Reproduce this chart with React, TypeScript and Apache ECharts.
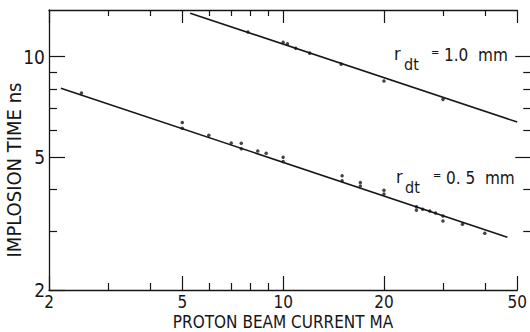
import React, { useEffect, useRef } from "react";
import * as echarts from "echarts";

// Data (log-log plot)
const current10 = [7.85, 10, 10.3, 10.9, 12, 14.9, 20, 30];
const time10 = [11.85, 11.05, 10.94, 10.6, 10.25, 9.5, 8.45, 7.45];
const fit10Current = [5.28, 50];
const fit10Time = [13.5, 6.37];

const current05 = [2.5, 5, 5, 6, 7, 7.5, 7.5, 8.4, 8.9, 10, 10, 15, 15, 17, 17, 20, 20, 25, 25, 26.1, 27.4, 28.5, 30, 30, 34.3, 40];
const time05 = [7.78, 6.1, 6.35, 5.82, 5.51, 5.5, 5.3, 5.22, 5.14, 5.0, 4.85, 4.4, 4.25, 4.2, 4.1, 3.98, 3.88, 3.55, 3.47, 3.49, 3.45, 3.4, 3.33, 3.22, 3.15, 2.96];
const fit05Current = [2.17, 46.7];
const fit05Time = [8.05, 2.88];

const xMajorTicks = [2, 5, 10, 20, 50];
const xMinorTicks = [3, 4, 6, 7, 8, 9, 30, 40];
const yMajorTicks = [2, 5, 10];
const yMinorTicks = [3, 4, 6, 7, 8, 9];
const xRange = [2, 50];
const yRange = [2, 13.8];

const L = Math.log10;
const FONT = "'Liberation Sans Narrow', 'DejaVu Sans Condensed', 'Roboto', sans-serif";
const INK = "#161616";

const pairs = (xs: number[], ys: number[]) => xs.map((x, i) => [L(x), L(ys[i])]);

export default function App() {
  const ref = useRef<HTMLDivElement>(null);
  useEffect(() => {
    const chart = echarts.init(ref.current!, null, { renderer: "svg" });
    const fmt = (v: number) => String(Math.round(Math.pow(10, v)));
    const baseX = {
      type: "value" as const,
      min: L(xRange[0]),
      max: L(xRange[1]),
      splitLine: { show: false },
    };
    const baseY = {
      type: "value" as const,
      min: L(yRange[0]),
      max: L(yRange[1]),
      splitLine: { show: false },
    };
    const line = { show: true, lineStyle: { color: INK, width: 1.3 } };
    const noLine = { show: false };
    const noLabel = { show: false };
    chart.setOption({
      animation: false,
      backgroundColor: "#ffffff",
      grid: { left: 49, top: 10, right: 10, bottom: 42, containLabel: false },
      xAxis: [
        {
          ...baseX,
          position: "bottom",
          axisLine: line,
          axisTick: { show: true, inside: true, length: 14, customValues: xMajorTicks.map(L), lineStyle: { color: INK, width: 1.2 } },
          axisLabel: { show: true, customValues: xMajorTicks.map(L), formatter: fmt, color: INK, fontSize: 17, fontFamily: FONT, margin: 3 },
        },
        {
          ...baseX,
          position: "bottom",
          axisLine: noLine,
          axisTick: { show: true, inside: true, length: 7, customValues: xMinorTicks.map(L), lineStyle: { color: INK, width: 1.2 } },
          axisLabel: noLabel,
        },
        {
          ...baseX,
          position: "top",
          axisLine: line,
          axisTick: { show: true, inside: true, length: 13, customValues: xMajorTicks.map(L), lineStyle: { color: INK, width: 1.2 } },
          axisLabel: noLabel,
        },
        {
          ...baseX,
          position: "top",
          axisLine: noLine,
          axisTick: { show: true, inside: true, length: 6, customValues: xMinorTicks.map(L), lineStyle: { color: INK, width: 1.2 } },
          axisLabel: noLabel,
        },
      ],
      yAxis: [
        {
          ...baseY,
          position: "left",
          axisLine: line,
          axisTick: { show: true, inside: true, length: 16, customValues: yMajorTicks.map(L), lineStyle: { color: INK, width: 1.2 } },
          axisLabel: { show: true, customValues: yMajorTicks.map(L), formatter: fmt, color: INK, fontSize: 19, fontFamily: FONT, margin: 4 },
        },
        {
          ...baseY,
          position: "left",
          axisLine: noLine,
          axisTick: { show: true, inside: true, length: 8, customValues: yMinorTicks.map(L), lineStyle: { color: INK, width: 1.2 } },
          axisLabel: noLabel,
        },
        {
          ...baseY,
          position: "right",
          offset: 14,
          axisLine: noLine,
          axisTick: { show: true, inside: true, length: 16, customValues: [5, 10].map(L), lineStyle: { color: INK, width: 1.2 } },
          axisLabel: noLabel,
        },
        {
          ...baseY,
          position: "right",
          offset: 14,
          axisLine: noLine,
          axisTick: { show: true, inside: true, length: 8, customValues: yMinorTicks.map(L), lineStyle: { color: INK, width: 1.2 } },
          axisLabel: noLabel,
        },
      ],
      series: [
        {
          type: "line",
          data: pairs(fit10Current, fit10Time),
          showSymbol: false,
          lineStyle: { color: INK, width: 1.6 },
          silent: true,
        },
        {
          type: "line",
          data: pairs(fit05Current, fit05Time),
          showSymbol: false,
          lineStyle: { color: INK, width: 1.6 },
          silent: true,
        },
        {
          type: "scatter",
          data: pairs(current10, time10),
          symbol: "circle",
          symbolSize: 3.5,
          itemStyle: { color: INK },
        },
        {
          type: "scatter",
          data: pairs(current05, time05),
          symbol: "circle",
          symbolSize: 3.5,
          itemStyle: { color: INK },
        },
      ],
      graphic: [
        {
          type: "text",
          x: 283,
          y: 322,
          style: { text: "PROTON BEAM CURRENT MA", fill: INK, font: `17px ${FONT}`, align: "center", verticalAlign: "middle" },
        },
        {
          type: "text",
          x: 14,
          y: 170,
          rotation: Math.PI / 2,
          style: { text: "IMPLOSION TIME ns", fill: INK, font: `20px ${FONT}`, align: "center", verticalAlign: "middle" },
        },
        { type: "text", x: 394, y: 44, style: { text: "r", fill: INK, font: `18px ${FONT}` } },
        { type: "text", x: 404, y: 56, style: { text: "dt", fill: INK, font: `16px ${FONT}` } },
        { type: "text", x: 431, y: 47, style: { text: "=", fill: INK, font: `11px ${FONT}` } },
        { type: "text", x: 444, y: 46, style: { text: "1.0  mm", fill: INK, font: `17px ${FONT}` } },
        { type: "text", x: 396, y: 167, style: { text: "r", fill: INK, font: `18px ${FONT}` } },
        { type: "text", x: 405, y: 179, style: { text: "dt", fill: INK, font: `16px ${FONT}` } },
        { type: "text", x: 433, y: 170, style: { text: "=", fill: INK, font: `11px ${FONT}` } },
        { type: "text", x: 446, y: 169, style: { text: "0. 5  mm", fill: INK, font: `17px ${FONT}` } },
      ],
    });
    return () => chart.dispose();
  }, []);
  return <div ref={ref} style={{ width: 530, height: 332, position: "absolute", left: 0, top: 0 }} />;
}
